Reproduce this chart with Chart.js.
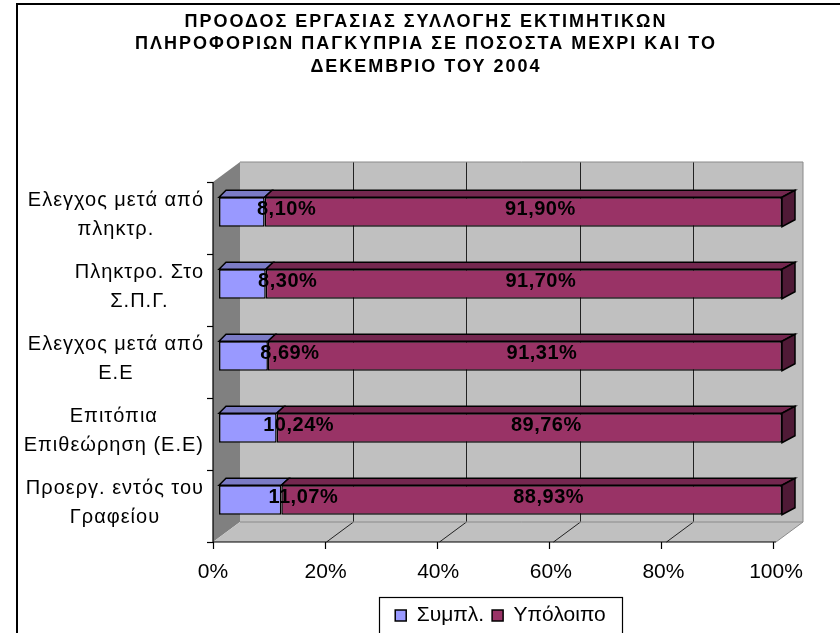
<!DOCTYPE html>
<html>
<head>
<meta charset="utf-8">
<script src="https://cdn.jsdelivr.net/npm/chart.js@4/dist/chart.umd.min.js"></script>
<style>
body { margin: 0; background: #fff; }
canvas { display: block; }
</style>
</head>
<body>
<canvas id="chart" width="840" height="633"></canvas>
<script>
// data (top to bottom)
var titleLines = ['ΠΡΟΟΔΟΣ ΕΡΓΑΣΙΑΣ ΣΥΛΛΟΓΗΣ ΕΚΤΙΜΗΤΙΚΩΝ',
	'ΠΛΗΡΟΦΟΡΙΩΝ ΠΑΓΚΥΠΡΙΑ ΣΕ ΠΟΣΟΣΤΑ ΜΕΧΡΙ ΚΑΙ ΤΟ',
	'ΔΕΚΕΜΒΡΙΟ ΤΟΥ 2004'];
var categories = [
	['Ελεγχος μετά από', 'πληκτρ.'],
	['Πληκτρο. Στο', 'Σ.Π.Γ.'],
	['Ελεγχος μετά από', 'Ε.Ε'],
	['Επιτόπια', 'Επιθεώρηση (Ε.Ε)'],
	['Προεργ. εντός του', 'Γραφείου']
];
var seriesNames = ['Συμπλ.', 'Υπόλοιπο'];
var completed = [8.10, 8.30, 8.69, 10.24, 11.07];
var remaining = [91.90, 91.70, 91.31, 89.76, 88.93];
var tickValues = [0, 20, 40, 60, 80, 100];

var FONT = '"Liberation Sans", Arial, sans-serif';
var SHIFT = 6;            // bars sit this far behind the front plane
var WALL_DX = 27, WALL_DY = 20;
var BAR_DY = 7;

Chart.defaults.font.family = FONT;
Chart.defaults.color = '#000';

function pct(v) {
	return v.toFixed(2).replace('.', ',') + '%';
}

function line(ctx, pts, close) {
	ctx.beginPath();
	ctx.moveTo(pts[0][0], pts[0][1]);
	for (var i = 1; i < pts.length; i++) ctx.lineTo(pts[i][0], pts[i][1]);
	if (close) ctx.closePath();
}

var excel3d = {
	id: 'excel3d',
	beforeDatasetsDraw: function(chart) {
		var ctx = chart.ctx, xs = chart.scales.x, ys = chart.scales.y;
		var fl = xs.getPixelForValue(0) - SHIFT, fr = xs.getPixelForValue(100) - SHIFT;
		var ft = ys.getPixelForValue(-0.5) + SHIFT, fb = ys.getPixelForValue(categories.length - 0.5) + SHIFT;
		ctx.save();
		// back wall
		ctx.fillStyle = '#c0c0c0';
		ctx.fillRect(fl + WALL_DX, ft - WALL_DY, fr - fl, fb - ft);
		// side wall
		ctx.fillStyle = '#808080';
		line(ctx, [[fl, ft], [fl + WALL_DX, ft - WALL_DY], [fl + WALL_DX, fb - WALL_DY], [fl, fb]], true);
		ctx.fill();
		// floor
		ctx.fillStyle = '#c0c0c0';
		line(ctx, [[fl, fb], [fr, fb], [fr + WALL_DX, fb - WALL_DY], [fl + WALL_DX, fb - WALL_DY]], true);
		ctx.fill();
		// grid lines on wall and floor
		ctx.strokeStyle = '#222';
		ctx.lineWidth = 1;
		tickValues.forEach(function(v) {
			if (v === 0 || v === 100) return;
			var px = Math.round(xs.getPixelForValue(v) - SHIFT * (100 - v) / 100 - 3 * v / 100) + 0.5;
			line(ctx, [[px + WALL_DX, ft - WALL_DY], [px + WALL_DX, fb - WALL_DY], [px, fb]]);
			ctx.stroke();
		});
		// wall edges
		ctx.strokeStyle = '#8a8a8a';
		line(ctx, [[fl + WALL_DX, ft - WALL_DY], [fr + WALL_DX, ft - WALL_DY], [fr + WALL_DX, fb - WALL_DY], [fr, fb]]);
		ctx.stroke();
		line(ctx, [[fl + WALL_DX, fb - WALL_DY], [fr + WALL_DX, fb - WALL_DY]]);
		ctx.stroke();
		// axes
		ctx.strokeStyle = '#000';
		ctx.lineWidth = 1.2;
		line(ctx, [[fl, ft], [fl, fb], [fr, fb]]);
		ctx.stroke();
		tickValues.forEach(function(v) {
			var px = Math.round(fl + (fr - 3 - fl) * v / 100) + 0.5;
			line(ctx, [[px, fb], [px, fb + 7]]);
			ctx.stroke();
		});
		for (var k = 0; k <= categories.length; k++) {
			var py = Math.round(ys.getPixelForValue(k - 0.5) + SHIFT) + 0.5;
			line(ctx, [[fl - 6, py], [fl, py]]);
			ctx.stroke();
		}
		ctx.restore();
	},
	afterDatasetsDraw: function(chart) {
		var ctx = chart.ctx, ca = chart.chartArea;
		var tops = ['#7b7bc6', '#74274f'];
		function dx(px) { return 7 + 6 * (px - ca.left) / (ca.right - ca.left); }
		ctx.save();
		ctx.lineWidth = 1.5;
		ctx.strokeStyle = '#000';
		chart.data.datasets.forEach(function(ds, di) {
			chart.getDatasetMeta(di).data.forEach(function(el) {
				var p = el.getProps(['x', 'y', 'base', 'height'], true);
				var x0 = Math.min(p.x, p.base), x1 = Math.max(p.x, p.base);
				var yt = p.y - p.height / 2, yb = p.y + p.height / 2;
				ctx.fillStyle = tops[di];
				line(ctx, [[x0, yt], [x1, yt], [x1 + dx(x1), yt - BAR_DY], [x0 + dx(x0), yt - BAR_DY]], true);
				ctx.fill();
				ctx.stroke();
				if (di === chart.data.datasets.length - 1) {
					ctx.fillStyle = '#4f1a36';
					line(ctx, [[x1, yt], [x1 + dx(x1), yt - BAR_DY], [x1 + dx(x1), yb - BAR_DY], [x1, yb]], true);
					ctx.fill();
					ctx.stroke();
				}
			});
		});
		// value labels
		ctx.font = 'bold 20px ' + FONT;
		ctx.letterSpacing = '0.5px';
		ctx.fillStyle = '#000';
		ctx.textAlign = 'center';
		ctx.textBaseline = 'middle';
		chart.data.datasets.forEach(function(ds, di) {
			chart.getDatasetMeta(di).data.forEach(function(el, i) {
				var p = el.getProps(['x', 'y', 'base'], true);
				var cx = di === 0 ? Math.max(p.x, p.base) + 22 : (p.x + p.base) / 2 + 17;
				ctx.fillText(pct(ds.data[i]), cx, p.y - 3);
			});
		});
		ctx.restore();
	},
	afterDraw: function(chart) {
		var ctx = chart.ctx, ys = chart.scales.y;
		ctx.save();
		// outer frame (cut by the picture edge)
		ctx.strokeStyle = '#000';
		ctx.lineWidth = 2;
		ctx.strokeRect(17, 4, 900, 700);
		// title
		ctx.fillStyle = '#000';
		ctx.font = 'bold 18px ' + FONT;
		ctx.letterSpacing = '2px';
		ctx.textAlign = 'center';
		ctx.textBaseline = 'middle';
		titleLines.forEach(function(t, i) {
			ctx.fillText(t, 426, 22 + i * 22.5);
		});
		// category labels: block right aligned, lines centred
		ctx.letterSpacing = '1px';
		ctx.font = '20px ' + FONT;
		categories.forEach(function(lines, i) {
			var w = 0;
			lines.forEach(function(l) { w = Math.max(w, ctx.measureText(l).width); });
			var cx = 204 - w / 2;
			var cy = ys.getPixelForValue(i) + SHIFT - 3;
			lines.forEach(function(l, j) {
				ctx.fillText(l, cx, cy + (j - (lines.length - 1) / 2) * 29);
			});
		});
		// legend frame
		var lg = chart.legend, hb = lg.legendHitBoxes;
		if (hb && hb.length) {
			var l = Infinity, r = -Infinity;
			hb.forEach(function(b) { l = Math.min(l, b.left); r = Math.max(r, b.left + b.width); });
			ctx.lineWidth = 1.2;
			ctx.strokeRect(Math.round(l - 16) + 0.5, Math.round(lg.top) + 0.5, Math.round(r - l + 32), 60);
		}
		ctx.restore();
	}
};

new Chart(document.getElementById('chart'), {
	type: 'bar',
	data: {
		labels: categories,
		datasets: [{
			label: seriesNames[0],
			data: completed,
			backgroundColor: '#9999ff',
			borderColor: '#000',
			borderWidth: 1.5,
			borderSkipped: false
		}, {
			label: seriesNames[1],
			data: remaining,
			backgroundColor: '#993366',
			borderColor: '#000',
			borderWidth: 1.5,
			borderSkipped: false
		}]
	},
	options: {
		indexAxis: 'y',
		responsive: false,
		animation: false,
		devicePixelRatio: 1,
		categoryPercentage: 1,
		barPercentage: 0.41,
		layout: { padding: { top: 176, left: 219, right: 58, bottom: -3 } },
		scales: {
			x: {
				stacked: true,
				min: 0,
				max: 100,
				grid: { display: false, drawTicks: false },
				border: { display: false },
				ticks: {
					stepSize: 20,
					padding: 24,
					labelOffset: -6,
					font: { size: 21 },
					color: '#000',
					callback: function(v) { return v + '%'; }
				},
				afterFit: function(s) { s.height = 61; }
			},
			y: {
				stacked: true,
				display: false
			}
		},
		plugins: {
			title: { display: false },
			tooltip: { enabled: false },
			legend: {
				position: 'bottom',
				labels: {
					font: { size: 21 },
					color: '#000',
					boxWidth: 11,
					boxHeight: 11,
					padding: 8
				}
			}
		}
	},
	plugins: [excel3d]
});
</script>
</body>
</html>
